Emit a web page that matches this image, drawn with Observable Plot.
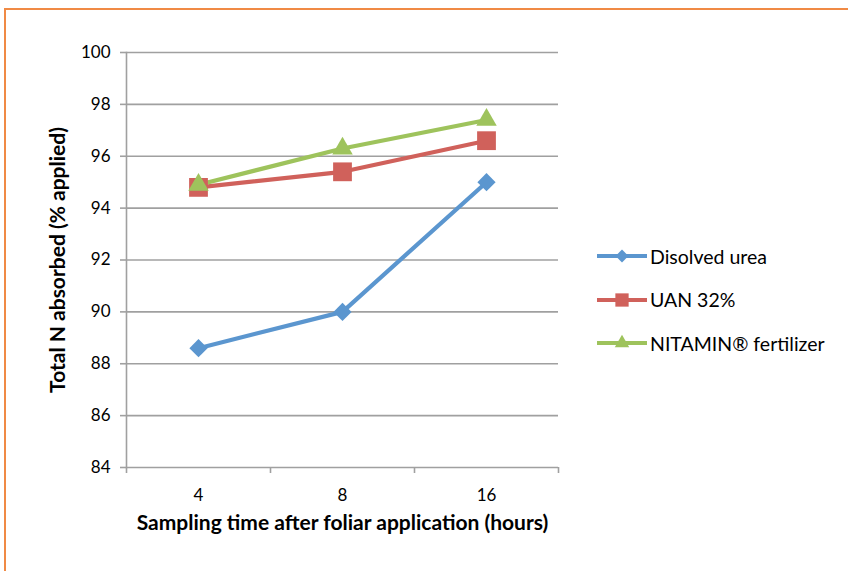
<!DOCTYPE html>
<html>
<head>
<meta charset="utf-8">
<script src="https://cdn.jsdelivr.net/npm/d3@7"></script>
<script src="https://cdn.jsdelivr.net/npm/@observablehq/plot@0.6"></script>
<style>
  html, body { margin: 0; padding: 0; background: #fff; }
  #wrap { position: relative; width: 848px; height: 571px; overflow: hidden; font-family: Lato, "Open Sans", sans-serif; }
  #border { position: absolute; left: 4px; top: 8px; right: -10px; bottom: -10px;
            border-top: 2px solid #F08A45; border-left: 2px solid #F08A45; pointer-events: none; }
  #chart { position: absolute; left: 0; top: 0; }
  #legend { position: absolute; left: 597px; top: 246px; font-size: 19.5px; color: #000; }
  .row { display: flex; align-items: center; height: 20px; margin-bottom: 23.5px; }
  .row svg { display: block; margin-right: 3px; }
</style>
</head>
<body>
<div id="wrap">
  <div id="chart"></div>
  <div id="legend"></div>
  <div id="border"></div>
</div>
<script>
const times = ["4", "8", "16"];
const seriesNames = ["Disolved urea", "UAN 32%", "NITAMIN\u00AE fertilizer"];
const ureaValues = [88.6, 90.0, 95.0];
const uanValues = [94.8, 95.4, 96.6];
const nitaminValues = [94.9, 96.3, 97.4];
const yTicks = [84, 86, 88, 90, 92, 94, 96, 98, 100];
const colors = ["#5B96CF", "#D0615B", "#9EC35C"];
const symbols = ["diamond2", "square", "triangle"];
const symbolR = [8.2, 10.6, 7.6];

const valuesBySeries = [ureaValues, uanValues, nitaminValues];
const data = valuesBySeries.flatMap((vals, s) =>
  vals.map((v, i) => ({ series: seriesNames[s], time: times[i], xi: i + 0.5, value: v }))
);

const gray = "#a0a0a0";
const tickFont = "'Liberation Sans Narrow', Lato, sans-serif";
const marks = [
  Plot.ruleY(yTicks.slice(1), { y: d => d, stroke: gray, strokeWidth: 1.6 }),
  Plot.ruleY([yTicks[0]], { y: d => d, stroke: gray, strokeWidth: 1.6 }),
  Plot.frame({ anchor: "left", stroke: gray, strokeWidth: 1.6 }),
  Plot.axisY({ ticks: yTicks, tickSize: 6, text: null, stroke: gray, strokeWidth: 1.6, label: null }),
  Plot.text(yTicks, { y: d => d, frameAnchor: "left", textAnchor: "end", dx: -16, fontSize: 17, fontFamily: tickFont, fill: "#000" }),
  Plot.axisX({ ticks: d3.range(times.length + 1), tickSize: 6, text: null, stroke: gray, strokeWidth: 1.6, label: null }),
  Plot.text(times, { x: (t, i) => i + 0.5, frameAnchor: "bottom", dy: 33, fontSize: 17, fontFamily: tickFont, fill: "#000" }),
  Plot.text(["Total N absorbed (% applied)"], { frameAnchor: "left", textAnchor: "middle", dx: -68, rotate: -90, fontWeight: "bold", fontSize: 21, fill: "#000" }),
  Plot.text(["Sampling time after foliar application (hours)"], { frameAnchor: "bottom", dy: 62, fontWeight: "bold", fontSize: 21, fill: "#000" })
];
seriesNames.forEach((name, s) => {
  const sd = data.filter(d => d.series === name);
  marks.push(Plot.line(sd, { x: "xi", y: "value", stroke: colors[s], strokeWidth: 4.2 }));
});
seriesNames.forEach((name, s) => {
  const sd = data.filter(d => d.series === name);
  marks.push(Plot.dot(sd, { x: "xi", y: "value", symbol: () => symbols[s], fill: colors[s], stroke: "none", r: symbolR[s] }));
});

const chart = Plot.plot({
  width: 848,
  height: 571,
  marginLeft: 126,
  marginRight: 290,
  marginTop: 52,
  marginBottom: 104,
  style: { fontFamily: "Lato, 'Open Sans', sans-serif", fontSize: "16px", background: "transparent" },
  x: { domain: [0, times.length], axis: null },
  y: { domain: [yTicks[0], yTicks[yTicks.length - 1]], axis: null },
  symbol: { type: "identity" },
  marks
});
document.getElementById("chart").appendChild(chart);

// Legend
const legend = d3.select("#legend");
const symbolTypes = [d3.symbolDiamond2, d3.symbolSquare, d3.symbolTriangle];
seriesNames.forEach((name, s) => {
  const row = legend.append("div").attr("class", "row");
  const svg = row.append("svg").attr("width", 50).attr("height", 20);
  svg.append("line").attr("x1", 1).attr("x2", 49).attr("y1", 10).attr("y2", 10)
    .attr("stroke", colors[s]).attr("stroke-width", 4.2).attr("stroke-linecap", "round");
  const size = Math.PI * symbolR[s] * symbolR[s] * 0.5;
  svg.append("path").attr("d", d3.symbol(symbolTypes[s], size)())
    .attr("transform", "translate(25,10)").attr("fill", colors[s]);
  row.append("span").text(name);
});
</script>
</body>
</html>
